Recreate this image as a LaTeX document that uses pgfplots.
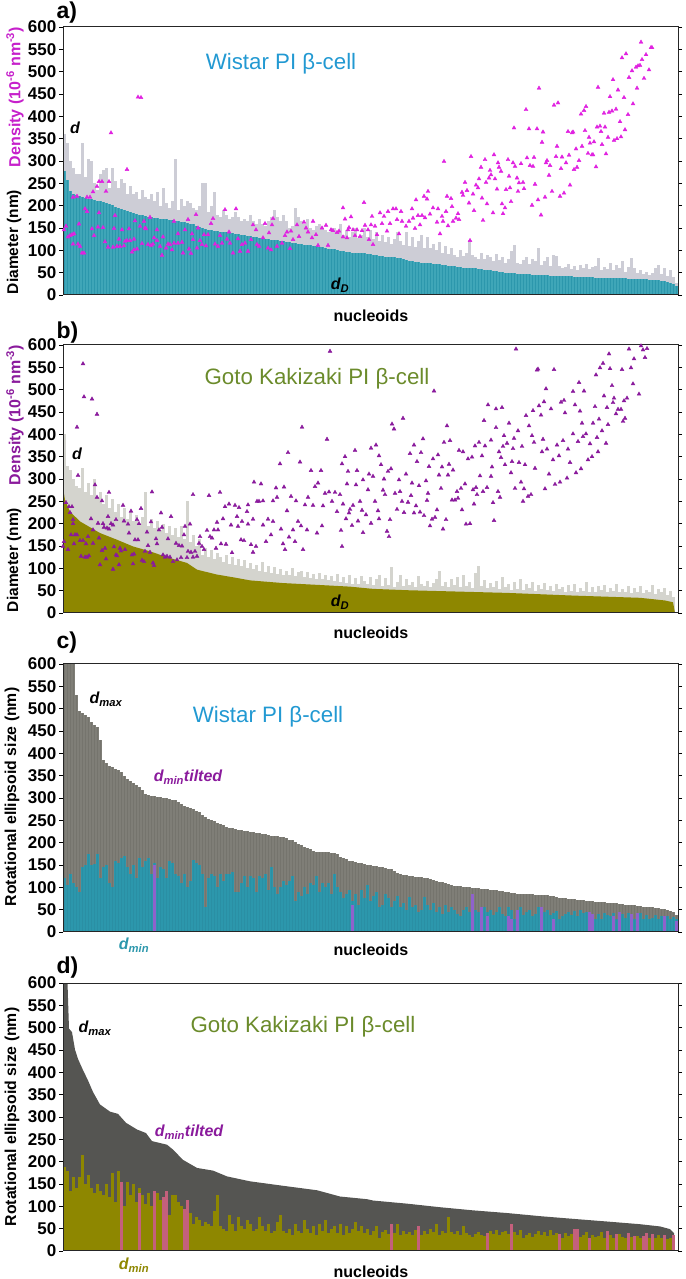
\documentclass[border=0pt]{standalone}
\usepackage{fontspec}
\setmainfont{Liberation Sans}
\usepackage{pgfplots}
\usepackage{pgfplotstable}
\pgfplotsset{compat=1.18}

\definecolor{tealA}{HTML}{3FA6B8}
\definecolor{tealB}{HTML}{2C97AC}
\definecolor{tealC}{HTML}{2A8FA4}
\definecolor{greyA}{HTML}{CDCDD6}
\definecolor{greyB}{HTML}{D4D4CE}
\definecolor{oliveB}{HTML}{8E8700}
\definecolor{greyC}{HTML}{7F7E77}
\definecolor{greyCd}{HTML}{75746D}
\definecolor{greyD}{HTML}{555552}
\definecolor{magentaT}{HTML}{E022E0}
\definecolor{purpleT}{HTML}{8A1A9C}
\definecolor{wistar}{HTML}{2299D2}
\definecolor{goto}{HTML}{6B8B2B}
\definecolor{purpC}{HTML}{8F62CC}
\definecolor{pinkD}{HTML}{C4607C}

% panel a
\pgfplotstableread{
v
360
340
300
285
270
270
340
265
305
300
250
235
270
280
285
240
285
255
240
260
250
225
245
225
230
215
235
220
215
225
210
230
200
240
205
195
210
305
190
215
200
210
205
195
190
200
250
250
185
200
230
180
175
190
180
170
175
185
175
165
170
165
180
165
160
170
160
155
165
175
190
175
165
180
165
150
155
195
175
165
160
170
150
145
155
160
150
145
140
150
150
140
160
135
145
130
140
150
128
135
150
130
145
125
140
120
135
118
130
115
125
140
120
112
142
110
130
108
120
135
105
130
105
115
100
118
95
110
92
105
90
85
100
88
95
124
90
85
80
95
80
90
85
75
92
78
85
72
80
98
113
72
70
78
85
70
80
75
105
68
75
85
65
90
88
65
60
62
70
58
65
55
68
60
70
58
62
65
83
55
62
58
72
55
68
60
75
52
62
83
60
50
55
48
52
45
50
60
68
48
60
42
55
40
26
}\dA
\pgfplotstableread{
v
277
258
232
226
224
222
220
218
216
214
212
211
210
208
206
204
201
198
195
192
190
188
186
184
182
180
178
176
175
174
173
172
171
170
169
168
167
166
165
164
163
162
160
158
155
152
149
147
146
145
144
143
142
141
140
139
138
137
136
135
134
133
131
130
129
128
127
126
125
124
123
122
121
120
119
118
117
116
115
114
113
112
111
110
109
108
107
106
104
103
102
100
99
98
97
96
95
95
94
93
93
92
91
90
89
88
87
86
86
85
84
83
82
80
78
77
76
74
73
72
72
71
71
70
69
69
68
67
66
65
64
63
62
61
60
60
60
60
59
58
57
56
55
54
53
52
51
50
50
49
49
48
47
47
46
46
45
45
45
44
44
44
43
43
43
43
43
42
42
42
41
41
41
40
40
40
40
39
39
39
39
38
38
38
38
37
37
37
36
36
36
36
35
35
35
34
34
33
33
32
31
29
27
24
20
}\dDA
\pgfplotstableread{
x y
1 146
3 154
5 130
7 133
9 135
11 137
10 219
14 221
10 114
15 114
17 109
16 159
19 94
21 94
22 193
24 187
24 219
27 219
30 231
34 243
36 254
39 254
43 232
46 254
29 148
31 133
35 152
36 184
40 151
42 119
45 107
48 363
50 107
52 178
51 149
54 109
56 125
57 109
59 146
61 110
62 120
64 281
66 148
64 122
67 122
69 96
71 125
72 166
71 101
74 103
75 443
78 442
77 154
79 115
81 165
82 150
83 148
85 113
87 174
88 111
90 114
91 128
94 146
94 122
97 109
99 89
100 130
103 105
105 114
107 113
109 101
111 165
111 116
115 137
115 116
119 118
120 94
122 146
125 169
126 103
128 93
129 137
130 124
133 180
134 105
135 150
137 122
139 113
141 135
143 110
145 135
148 160
150 171
152 114
155 109
157 133
159 116
162 191
164 125
166 141
167 116
173 193
170 94
175 126
177 98
179 113
182 116
185 98
188 124
190 157
193 146
194 113
196 109
200 128
202 160
205 105
206 139
209 157
210 171
208 101
214 109
219 116
222 133
224 141
227 104
228 143
230 124
234 157
236 131
241 163
243 150
245 141
250 165
249 128
253 135
255 111
259 150
263 156
265 111
268 146
270 144
274 140
276 143
280 195
282 170
285 146
280 130
301 207
288 175
286 151
290 146
294 146
299 144
305 146
308 157
309 176
312 154
302 156
284 128
292 133
297 131
306 124
310 113
314 135
317 184
319 160
321 176
324 143
325 187
327 160
330 193
333 193
334 169
336 137
338 187
339 165
343 154
346 165
349 193
350 172
352 149
353 213
355 178
357 157
359 178
361 221
364 215
365 232
362 173
367 181
370 195
374 163
375 193
377 137
379 176
380 165
381 299
383 187
384 221
385 155
388 216
389 198
390 165
393 172
395 182
396 169
399 230
400 223
402 252
404 234
406 206
407 122
408 310
410 226
411 189
413 246
415 240
416 260
418 286
419 217
420 167
422 303
423 252
424 204
426 262
427 279
428 269
430 184
431 314
432 260
434 237
435 296
436 286
438 277
439 204
440 182
442 195
443 236
445 303
446 266
447 240
448 209
450 296
451 374
452 288
454 262
455 232
456 251
458 294
460 252
461 238
463 415
464 307
466 372
467 290
469 201
470 288
471 308
472 248
474 372
475 213
476 463
478 179
479 342
480 365
482 219
483 296
484 301
486 268
487 290
489 232
491 425
493 310
494 333
495 430
497 221
498 283
499 309
501 228
503 296
505 366
506 313
507 246
509 363
510 365
511 281
513 327
514 286
516 301
518 405
519 333
521 413
522 368
523 422
525 317
526 353
527 340
529 314
530 314
531 343
533 287
534 376
535 465
537 378
538 366
539 337
541 407
542 376
543 316
545 353
546 409
547 444
549 412
550 482
551 346
553 416
554 350
555 459
557 388
558 354
559 531
561 442
562 370
563 540
565 404
566 487
569 502
570 428
573 510
574 463
575 513
577 514
578 566
579 527
581 485
583 538
586 504
588 554
589 554
}\rhoA

% panel b
\pgfplotstableread{
v
400
330
320
300
285
280
325
270
290
265
300
260
270
245
265
235
255
225
245
215
235
210
225
205
220
200
215
270
195
210
190
205
185
200
180
195
175
190
170
195
165
250
160
175
150
165
130
145
125
140
120
135
125
115
130
110
125
108
120
105
118
100
112
98
108
95
115
92
105
90
102
88
98
85
95
84
100
82
92
95
80
92
78
88
76
90
75
85
74
82
72
88
70
80
68
85
66
78
65
82
72
64
80
62
75
85
60
78
62
104
58
70
84
60
75
62
70
58
82
65
60
72
58
68
75
93
60
70
58
75
62
80
58
85
60
70
56
90
106
60
74
56
68
58
72
54
80
58
66
52
70
54
76
52
64
56
70
50
62
54
68
52
60
50
66
54
58
48
62
50
64
48
56
50
70
48
58
46
60
52
62
46
56
50
64
46
54
48
60
44
56
46
60
44
52
48
62
42
54
46
56
40
50
36
}\dB
\pgfplotstableread{
x y
0 280
2 253
7 227
17 205
37 179
54 164
70 149
87 138
104 125
124 112
134 97
154 86
170 80
187 73
220 67
254 63
287 59
310 54
344 51
394 48
444 45
510 39
577 34
602 28
610 24
612 0
}\dDB
\pgfplotstableread{
x y
1 160
0 149
3 247
5 142
6 238
7 225
9 238
10 209
10 200
8 175
12 175
14 175
14 416
15 308
11 155
17 162
18 127
20 162
20 558
21 484
23 155
22 125
24 125
26 128
25 171
29 479
28 211
30 156
30 186
32 287
34 259
34 445
35 201
36 168
39 140
39 251
40 200
41 192
42 145
44 190
45 216
46 270
46 188
37 108
43 121
48 200
50 98
50 197
51 148
53 209
53 130
54 128
56 108
57 145
58 139
60 241
61 206
62 142
65 199
66 179
68 228
69 130
70 110
71 132
74 209
72 164
75 164
76 200
78 234
79 118
81 115
82 138
84 181
85 151
87 136
88 204
89 271
90 112
91 106
93 166
94 155
96 186
98 224
99 192
100 130
102 125
104 127
105 166
107 125
108 216
110 115
113 156
114 119
116 151
118 124
119 150
121 175
122 194
124 124
127 199
125 138
128 136
130 265
130 125
132 138
134 127
136 156
137 171
139 149
141 142
144 185
146 263
147 171
149 168
151 186
153 145
154 203
155 186
157 270
158 155
160 211
162 238
163 154
166 244
168 197
169 135
172 241
174 216
175 194
176 236
178 164
179 205
181 162
184 227
185 242
185 199
188 153
190 210
190 136
191 293
193 149
194 250
196 250
198 289
200 251
200 197
203 160
205 210
208 175
210 205
210 251
213 280
214 259
217 334
218 188
220 155
221 282
222 142
225 359
224 229
226 170
228 261
230 186
232 160
233 251
235 205
237 338
239 416
238 195
240 142
242 242
244 186
245 259
248 319
250 241
252 283
254 179
255 291
258 319
259 195
260 240
262 268
264 389
266 271
267 586
269 250
272 270
274 227
277 265
279 334
278 185
280 244
279 149
282 350
284 289
285 317
286 224
283 211
287 232
289 196
290 241
292 364
293 287
294 319
295 206
297 250
299 230
300 180
300 298
303 220
305 276
306 311
308 369
308 201
310 306
312 250
313 376
315 229
316 211
316 352
318 332
320 275
321 300
322 265
324 183
325 317
326 171
327 209
328 323
329 423
331 412
332 268
334 232
336 298
337 272
339 250
340 436
341 225
343 311
345 248
347 357
348 263
349 291
351 224
351 376
353 240
354 339
356 285
357 226
358 359
360 390
361 218
363 296
364 252
365 268
366 328
367 195
369 210
370 345
371 497
372 214
374 231
375 354
376 309
378 279
379 327
380 188
381 382
383 209
384 419
385 309
386 333
387 386
389 253
390 320
392 253
394 272
395 257
396 364
398 279
399 231
400 361
402 289
403 199
405 345
407 200
409 349
410 276
411 244
412 374
413 281
414 265
416 382
417 307
419 352
420 272
421 431
422 374
424 281
425 466
428 306
428 387
429 327
430 247
431 207
433 457
433 415
435 272
436 361
437 259
438 348
439 460
440 373
441 397
442 332
444 380
446 425
448 314
449 339
450 368
451 391
452 279
453 591
455 408
456 337
458 293
459 373
460 250
461 278
462 332
463 442
465 261
466 419
468 265
469 397
470 453
471 382
472 324
474 544
475 546
476 464
478 443
479 361
480 389
481 473
482 278
483 502
484 367
486 311
488 457
490 343
491 545
492 288
494 376
496 352
497 293
498 472
500 386
501 476
502 448
504 302
505 367
507 337
510 401
510 496
512 466
513 314
515 384
516 516
517 452
518 323
519 425
520 395
521 497
523 401
525 343
527 379
529 350
530 425
532 462
533 533
534 393
535 361
536 434
537 549
539 408
540 559
541 486
543 380
544 460
545 422
546 580
547 547
549 509
550 471
551 481
553 446
555 456
558 456
559 545
560 429
561 475
562 436
564 481
566 591
568 549
570 513
571 569
576 490
578 598
580 589
582 572
584 592
}\rhoB

% panel c
\pgfplotstableread{
v
640
640
640
620
530
495
490
485
482
470
464
459
430
385
378
372
369
365
362
358
350
343
338
333
329
325
318
310
307
305
304
303
302
300
299
297
296
295
291
287
283
280
278
276
272
268
263
258
254
251
248
245
242
239
236
233
232
230
229
228
226
225
224
223
222
221
220
219
218
216
215
214
213
212
210
207
205
202
198
195
191
188
185
182
180
179
179
178
178
177
176
174
169
166
163
160
158
157
155
154
153
151
150
148
147
146
145
143
142
140
136
132
129
128
127
126
125
124
124
123
122
121
119
117
115
113
111
109
108
106
104
103
102
101
100
100
99
99
98
97
97
96
95
94
93
92
91
90
89
88
87
86
85
85
84
84
84
83
83
83
82
82
81
80
79
77
76
75
74
73
73
72
72
71
70
69
69
68
68
67
67
66
65
65
64
63
62
61
61
60
60
59
58
57
57
56
55
54
53
52
51
49
47
44
38
}\dmaxC
\pgfplotstableread{
v
120
105
130
110
100
90
145
150
175
150
152
175
120
145
150
110
100
160
155
165
170
145
130
150
120
165
145
160
165
130
155
120
145
140
120
160
155
130
125
110
130
100
115
162
155
150
130
55
120
130
125
100
130
115
130
130
135
90
90
110
125
100
125
120
90
125
120
130
95
145
100
85
100
115
105
115
125
70
90
80
100
85
110
105
125
90
110
100
110
85
130
100
90
75
85
95
70
85
60
95
75
105
70
80
90
55
60
85
75
55
70
80
55
65
50
78
55
60
45
50
78
60
50
65
45
55
40
60
45
55
50
40
35
50
55
45
60
50
45
40
55
45
50
38
45
55
40
35
55
50
30
40
55
38
45
50
35
40
55
30
45
50
38
42
48
30
35
40
45
38
48
35
50
42
45
38
35
28
40
30
42
38
35
42
30
38
40
32
42
35
28
36
42
30
38
28
32
38
30
35
28
36
30
34
28
}\dminC

% panel d
\pgfplotstableread{
x y
0 640
4 640
5 566
6 498
9 490
12 451
15 430
20 405
25 382
30 356
37 328
47 312
55 307
63 287
74 272
83 264
89 246
104 238
110 227
120 204
134 186
150 180
164 167
187 156
220 146
254 136
277 122
304 116
310 113
344 106
377 98
410 91
444 85
477 78
510 72
544 66
577 60
597 55
607 49
611 40
612 0
}\dmaxD
\pgfplotstableread{
v
188
180
135
165
140
165
215
150
170
140
130
150
135
125
150
120
175
110
180
120
100
155
125
150
110
140
125
105
130
100
125
130
115
105
125
80
125
125
110
100
90
95
85
60
75
70
55
65
60
55
90
125
55
50
45
80
60
45
75
55
50
70
60
45
50
75
55
45
60
40
45
65
80
45
40
50
35
60
45
40
70
50
40
55
35
60
45
70
40
50
55
40
60
35
55
40
50
65
45
55
40
50
35
45
55
30
42
48
38
55
40
60
35
45
38
42
35
48
40
36
45
38
50
42
60
36
44
40
75
42
38
45
36
55
40
35
32
38
42
36
34
40
45
38
48
35
42
45
38
60
42
35
48
30
36
40
32
38
45
35
42
33
48
36
40
38
30
40
34
38
36
50
32
36
42
28
36
32
34
42
30
38
36
28
34
38
32
30
36
32
28
34
30
32
38
28
34
30
36
28
32
26
30
26
}\dminD

\pgfplotsset{panel/.style={
  scale only axis, width=615pt, height=268pt,
  anchor=south west,
  xmin=0, xmax=615, ymin=0, ymax=600,
  ytick={0,50,...,600}, xtick=\empty,
  tick pos=both, tick align=outside, yticklabel pos=left,
  major tick length=4pt,
  tick style={line width=0.9pt, color=black},
  axis line style={line width=1pt, color=black!85},
  axis on top,
  /pgf/number format/assume math mode=true,
  yticklabel style={font=\fontsize{17}{17}\selectfont\bfseries, inner sep=0pt, xshift=-2.5pt},
}}
\tikzset{
  letter/.style={font=\fontsize{23}{23}\selectfont\bfseries},
  ttl/.style={font=\fontsize{22.3}{22.3}\selectfont},
  ann/.style={font=\fontsize{16}{16}\selectfont\bfseries\itshape},
  ylab/.style={rotate=90, font=\fontsize{15.5}{15.5}\selectfont\bfseries},
  nuc/.style={font=\fontsize{16}{16}\selectfont\bfseries},
}
\newcommand{\sub}[1]{\textsubscript{#1}}

\begin{document}
\begin{tikzpicture}[x=1pt,y=1pt]
\path[use as bounding box] (0,0) rectangle (685,1279);

% a
\begin{axis}[panel, at={(63pt,984pt)}]
\addplot[ycomb, no markers, greyA, line width=2.2pt] table[x expr=\coordindex*3+1.5, y=v] {\dA};
\addplot[ycomb, no markers, tealA, line width=3.2pt] table[x expr=\coordindex*3+1.5, y=v] {\dDA};
\addplot[ycomb, no markers, tealB, line width=1.3pt] table[x expr=\coordindex*3+1.5, y=v] {\dDA};
\addplot[only marks, mark=triangle*, mark size=2.2pt, magentaT, mark options={draw=none, fill=magentaT}] table[x=x, y=y] {\rhoA};
\end{axis}

% b
\begin{axis}[panel, at={(63pt,666pt)}]
\addplot[ycomb, no markers, greyB, line width=2.6pt] table[x expr=\coordindex*3+1.5, y=v] {\dB};
\addplot[fill=oliveB, draw=none] table[x=x, y=y] {\dDB} \closedcycle;
\addplot[only marks, mark=triangle*, mark size=2.2pt, purpleT, mark options={draw=none, fill=purpleT}] table[x=x, y=y] {\rhoB};
\end{axis}

% c
\begin{axis}[panel, at={(63pt,347pt)}]
\addplot[ycomb, no markers, greyC, line width=3.4pt] table[x expr=\coordindex*3+1.5, y=v] {\dmaxC};
\addplot[ycomb, no markers, greyCd, line width=1.2pt] table[x expr=\coordindex*3+1.5, y=v] {\dmaxC};
\addplot[ycomb, no markers, tealB, line width=3.2pt] table[x expr=\coordindex*3+1.5, y=v] {\dminC};
\addplot[ycomb, no markers, tealC, line width=1.1pt] table[x expr=\coordindex*3+1.5, y=v] {\dminC};
\addplot[ycomb, no markers, purpC, line width=2.6pt] coordinates {(91.5,150)(289.5,60)(409.5,85)(418.5,55)(424.5,35)(445.5,35)(448.5,30)(454.5,50)(478.5,55)(490.5,30)(526.5,45)(529.5,40)(550.5,35)(556.5,45)(568.5,40)(574.5,42)(601.5,35)(613.5,25)};
\end{axis}

% d
\begin{axis}[panel, at={(63pt,28pt)}]
\addplot[fill=greyD, draw=none] table[x=x, y=y] {\dmaxD} \closedcycle;
\addplot[ycomb, no markers, oliveB, line width=3.2pt] table[x expr=\coordindex*3+1.5, y=v] {\dminD};
\addplot[ycomb, no markers, pinkD, line width=2.4pt] coordinates {(58.5,155)(76.5,130)(91.5,135)(100.5,120)(103.5,135)(121.5,95)(124.5,115)(328.5,60)(355.5,55)(424.5,40)(448.5,60)(496.5,38)(511.5,50)(514.5,50)(526.5,30)(544.5,45)(553.5,38)(565.5,40)(571.5,33)(580.5,33)(583.5,40)(589.5,38)(601.5,35)(610.5,35)};
\end{axis}

% panel letters
\node[letter, anchor=west] at (53,1266) {a)};
\node[letter, anchor=west] at (53,946) {b)};
\node[letter, anchor=west] at (53,636) {c)};
\node[letter, anchor=west] at (53,311) {d)};

% titles
\node[ttl, text=wistar] at (281,1215) {Wistar PI β-cell};
\node[ttl, text=goto] at (317,900) {Goto Kakizaki PI β-cell};
\node[ttl, text=wistar] at (268,562) {Wistar PI β-cell};
\node[ttl, text=goto] at (303,252) {Goto Kakizaki PI β-cell};

% y labels
\node[ylab] at (14,1037) {Diameter (nm)};
\node[ylab, text=magentaT!70!purpleT, font=\fontsize{16}{16}\selectfont\bfseries] at (15,1182) {Density (10\textsuperscript{-6} nm\textsuperscript{-3})};
\node[ylab] at (14,719) {Diameter (nm)};
\node[ylab, text=purpleT, font=\fontsize{16}{16}\selectfont\bfseries] at (15,864) {Density (10\textsuperscript{-6} nm\textsuperscript{-3})};
\node[ylab, font=\fontsize{15.8}{15.8}\selectfont\bfseries] at (12,482) {Rotational ellipsoid size (nm)};
\node[ylab, font=\fontsize{15.8}{15.8}\selectfont\bfseries] at (12,162) {Rotational ellipsoid size (nm)};

% x labels
\node[nuc] at (371,963) {nucleoids};
\node[nuc] at (371,646) {nucleoids};
\node[nuc] at (371,329) {nucleoids};
\node[nuc] at (371,7) {nucleoids};

% annotations
\node[ann] at (75,1151) {d};
\node[ann] at (340,994) {d\sub{D}};
\node[ann] at (77,825) {d};
\node[ann] at (340,677) {d\sub{D}};
\node[ann] at (106,580) {d\sub{max}};
\node[ann, text=purpleT] at (188,502) {d\sub{min}tilted};
\node[ann, text=tealB] at (134,334) {d\sub{min}};
\node[ann] at (95,251) {d\sub{max}};
\node[ann, text=purpleT] at (189,147) {d\sub{min}tilted};
\node[ann, text=oliveB] at (134,14) {d\sub{min}};
\end{tikzpicture}
\end{document}
